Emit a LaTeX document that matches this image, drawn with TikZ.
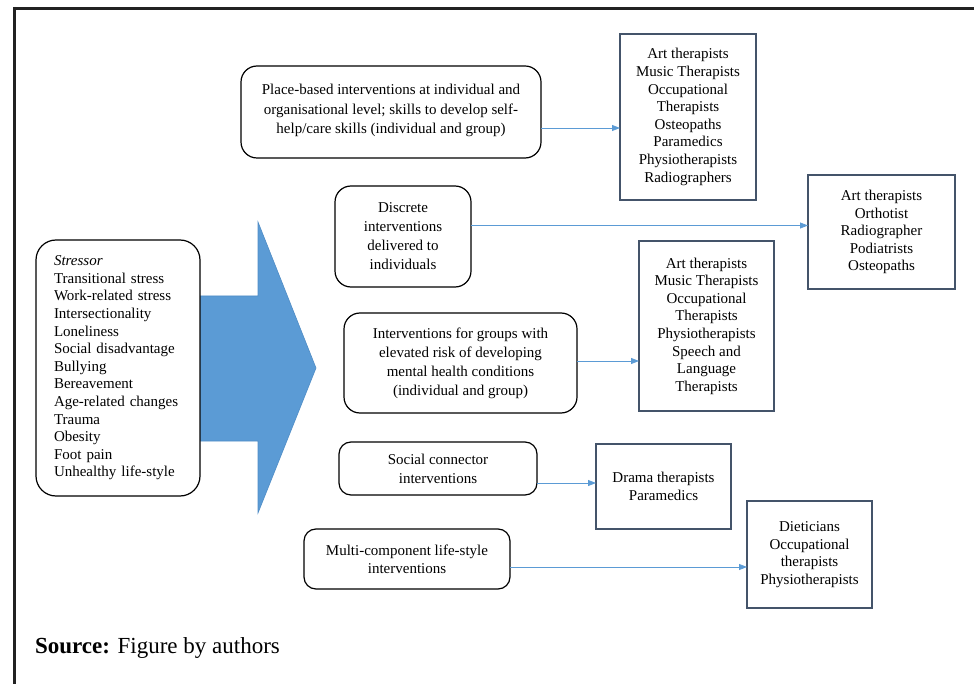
\documentclass[tikz,border=0pt]{standalone}
\usepackage{fontspec}
\setmainfont{Liberation Serif}
\usetikzlibrary{arrows.meta}
\definecolor{bigblue}{HTML}{5B9BD5}
\definecolor{bigblueedge}{HTML}{4F8CC5}
\definecolor{linkblue}{HTML}{5B9BD5}
\definecolor{boxedge}{HTML}{44546A}
\definecolor{frame}{HTML}{222222}
\begin{document}
\begin{tikzpicture}[x=1pt,y=-1pt,
  every node/.style={inner sep=0pt,outer sep=0pt,font=\fontsize{15}{17.6}\selectfont},
  roundbox/.style={draw=black,line width=1.2pt,rounded corners=16pt,fill=white,align=center},
  listbox/.style={draw=boxedge,line width=1.2pt,fill=white,align=center},
  link/.style={draw=linkblue,line width=0.8pt,-{Triangle[length=8pt,width=6pt]}}]
\useasboundingbox (0,0) rectangle (974,684);
% frame
\draw[frame,line width=3pt] (13,8.5) -- (974,8.5);
\draw[frame,line width=3pt] (14.5,7) -- (14.5,684);
% big arrow
\fill[bigblue,draw=bigblueedge,line width=0.6pt] (190,296) -- (258,296) -- (258,222) -- (316,368) -- (258,513) -- (258,441) -- (190,441) -- cycle;
% stressor box
\node[roundbox,rounded corners=20pt,minimum width=164pt,minimum height=256pt,text width=128pt,align=left] (stress) at (118,368)
 {\itshape Stressor\\ \upshape Transitional stress\\Work-related stress\\Intersectionality\\Loneliness\\Social disadvantage\\Bullying\\Bereavement\\Age-related changes\\Trauma\\Obesity\\Foot pain\\Unhealthy life-style};
% intervention boxes
\node[roundbox,minimum width=300pt,minimum height=92pt,font=\fontsize{15}{19.3}\selectfont] (place) at (391,112)
 {Place-based interventions at individual and\\organisational level; skills to develop self-\\help/care skills (individual and group)\rule[-6pt]{0pt}{6pt}};
\node[roundbox,minimum width=136pt,minimum height=101pt,font=\fontsize{15}{19}\selectfont] (discrete) at (403,236.5)
 {Discrete\\interventions\\delivered to\\individuals};
\node[roundbox,minimum width=233pt,minimum height=100pt,font=\fontsize{15}{19}\selectfont] (groups) at (460.5,363)
 {Interventions for groups with\\elevated risk of developing\\mental health conditions\\(individual and group)};
\node[roundbox,rounded corners=12pt,minimum width=198pt,minimum height=53pt,font=\fontsize{15}{19}\selectfont] (social) at (438,468.5)
 {Social connector\\interventions};
\node[roundbox,rounded corners=12pt,minimum width=206pt,minimum height=60pt,font=\fontsize{15}{18}\selectfont] (multi) at (407,559)
 {Multi-component life-style\\interventions};
% professional boxes
\node[listbox,minimum width=136pt,minimum height=166pt] (A1) at (688,117)
 {Art therapists\\Music Therapists\\Occupational\\Therapists\\Osteopaths\\Paramedics\\Physiotherapists\\Radiographers};
\node[listbox,minimum width=147pt,minimum height=114pt] (A2) at (881.5,232)
 {Art therapists\\Orthotist\\Radiographer\\Podiatrists\\Osteopaths};
\node[listbox,minimum width=135pt,minimum height=170pt] (A3) at (706.5,326)
 {Art therapists\\Music Therapists\\Occupational\\Therapists\\Physiotherapists\\Speech and\\Language\\Therapists};
\node[listbox,minimum width=135pt,minimum height=85pt] (A4) at (663.5,486.5)
 {Drama therapists\\Paramedics};
\node[listbox,minimum width=125pt,minimum height=107pt] (A5) at (809.5,554.5)
 {Dieticians\\Occupational\\therapists\\Physiotherapists};
% connectors
\draw[link] ([yshift=-16pt]place.east) -- ([yshift=-11pt]A1.west);
\draw[link] ([yshift=11pt]discrete.east) -- ([yshift=6.5pt]A2.west);
\draw[link] ([yshift=2pt]groups.east) -- ([yshift=2pt]groups.east -| A3.west);
\draw[link] ([yshift=-14.5pt]social.east) -- ([yshift=-14.5pt]social.east -| A4.west);
\draw[link] ([yshift=-8pt]multi.east) -- ([yshift=-8pt]multi.east -| A5.west);
% source
\node[anchor=west,font=\fontsize{23}{27}\selectfont] (source) at (35,648) {\textbf{Source:} Figure by authors};
\end{tikzpicture}
\end{document}
